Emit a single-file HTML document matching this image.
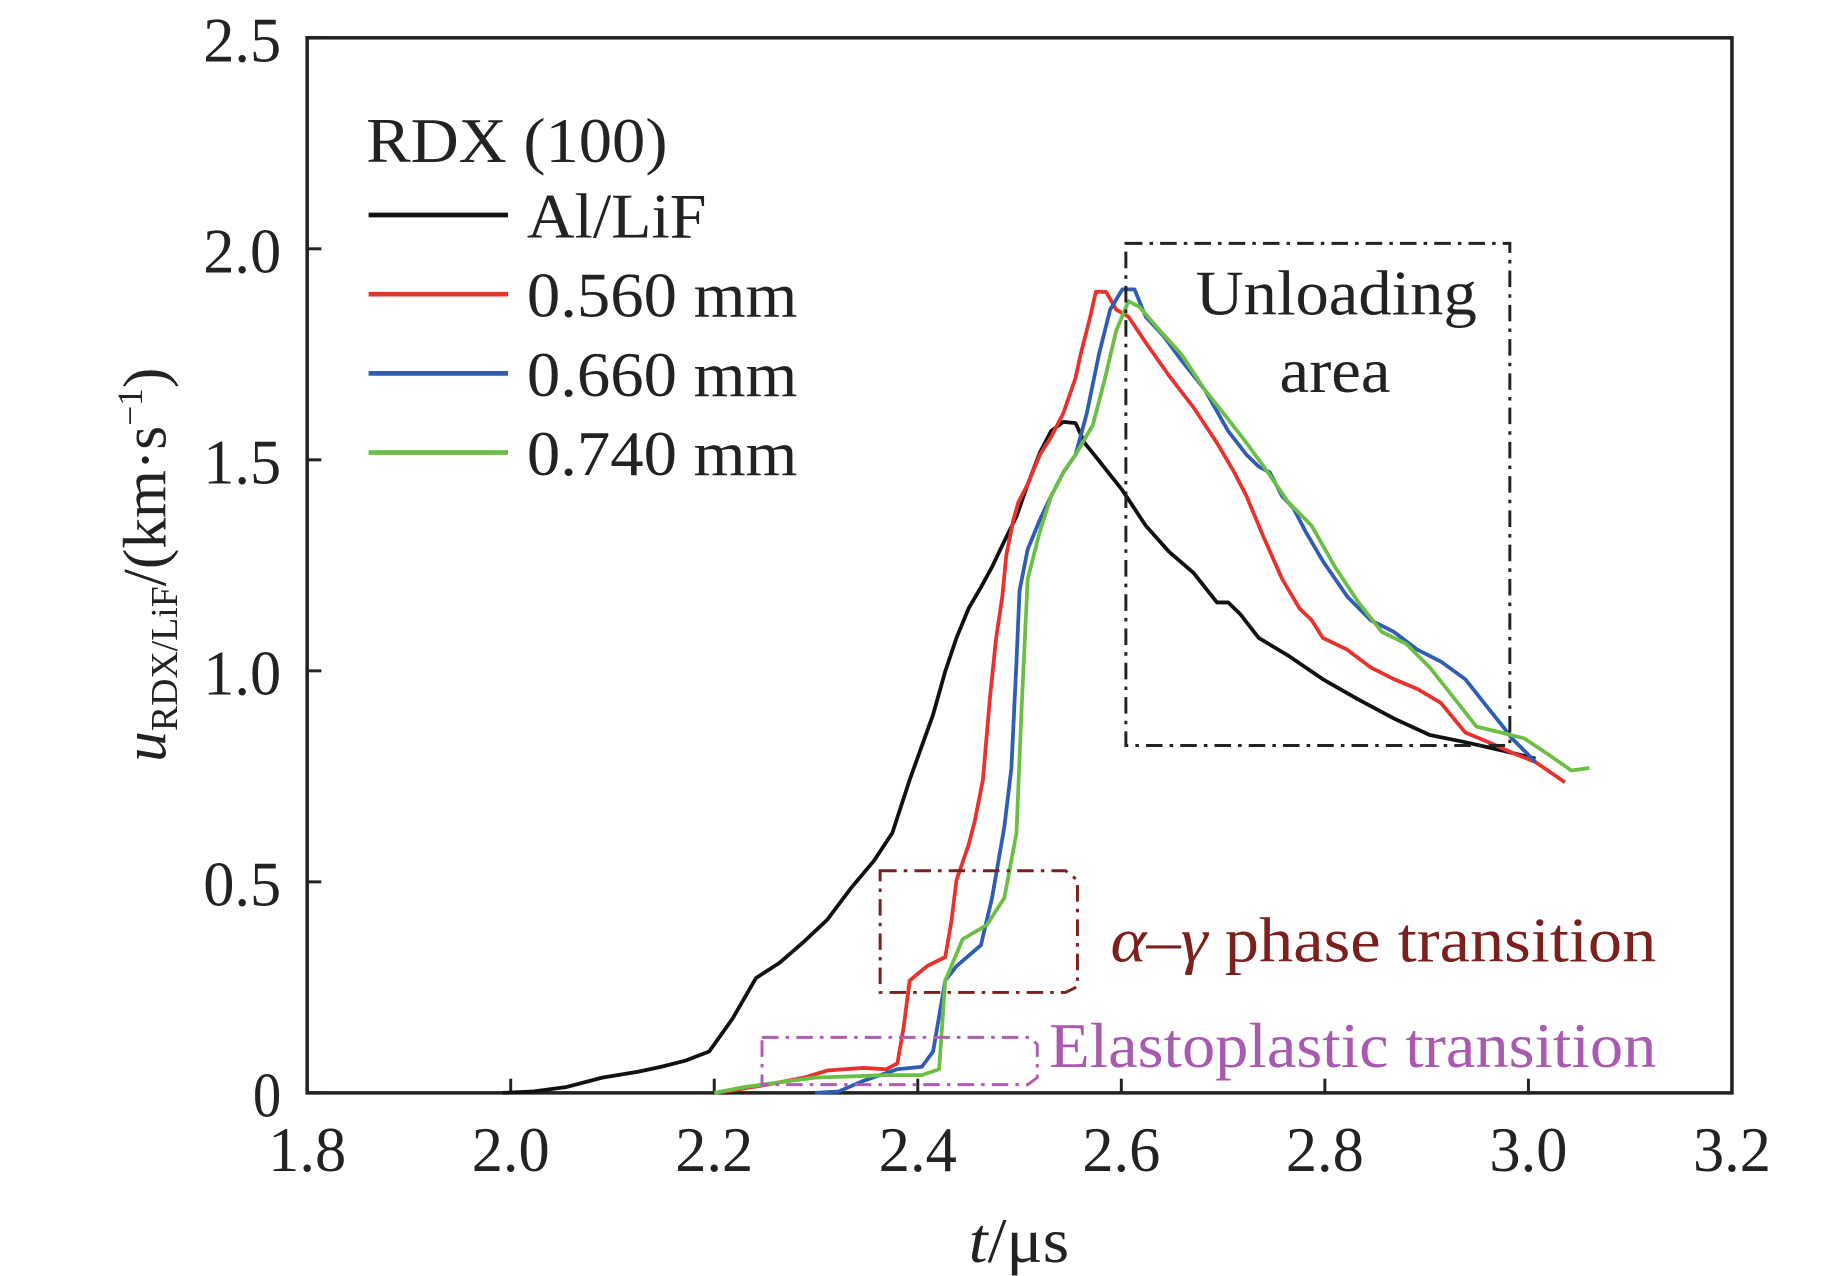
<!DOCTYPE html>
<html><head><meta charset="utf-8"><style>html,body{margin:0;padding:0;background:#fff}svg{display:block}</style></head>
<body>
<svg width="1843" height="1276" viewBox="0 0 1560 1080" preserveAspectRatio="none" xmlns="http://www.w3.org/2000/svg" font-family="'Liberation Serif', serif">
<g id="plot"></g>
</svg>
<script>
const xTicks=[1.8,2.0,2.2,2.4,2.6,2.8,3.0,3.2];
const yTicks=[0,0.5,1.0,1.5,2.0,2.5];
const yTickLabels=["0","0.5","1.0","1.5","2.0","2.5"];
const seriesNames=["Al/LiF","0.560 mm","0.660 mm","0.740 mm"];
const seriesColors=["#111","#e8322d","#2f5db3","#6cbf45"];
const tBlack=[1.992,2.021,2.055,2.090,2.125,2.148,2.171,2.195,2.218,2.241,2.264,2.288,2.311,2.334,2.357,2.375,2.392,2.415,2.427,2.438,2.450,2.462,2.473,2.485,2.497,2.508,2.520,2.531,2.543,2.555,2.564,2.578,2.601,2.624,2.647,2.671,2.694,2.705,2.717,2.735,2.764,2.798,2.833,2.868,2.903,2.938,2.973,3.007];
const uBlack=[0,0.003,0.014,0.036,0.05,0.062,0.076,0.098,0.176,0.272,0.308,0.358,0.41,0.484,0.55,0.616,0.742,0.896,0.999,1.078,1.148,1.198,1.246,1.307,1.366,1.442,1.517,1.568,1.59,1.587,1.54,1.498,1.428,1.344,1.282,1.232,1.162,1.162,1.134,1.078,1.036,0.98,0.932,0.887,0.848,0.831,0.812,0.792];
const tRed=[2.200,2.224,2.253,2.288,2.311,2.346,2.369,2.380,2.386,2.392,2.409,2.427,2.433,2.438,2.450,2.456,2.464,2.471,2.477,2.483,2.487,2.494,2.499,2.508,2.520,2.531,2.543,2.555,2.560,2.569,2.575,2.585,2.595,2.607,2.624,2.647,2.671,2.694,2.711,2.723,2.740,2.758,2.775,2.787,2.798,2.822,2.845,2.868,2.891,2.914,2.938,2.961,2.984,3.007,3.036];
const uRed=[0,0.008,0.02,0.036,0.053,0.059,0.056,0.07,0.154,0.266,0.3,0.322,0.406,0.504,0.588,0.644,0.742,0.938,1.078,1.176,1.274,1.358,1.4,1.442,1.512,1.554,1.61,1.694,1.75,1.834,1.898,1.898,1.856,1.839,1.778,1.699,1.624,1.54,1.47,1.414,1.316,1.218,1.148,1.12,1.078,1.05,1.008,0.98,0.957,0.924,0.854,0.831,0.806,0.784,0.736];
const tBlue=[2.299,2.322,2.346,2.380,2.404,2.415,2.427,2.438,2.462,2.473,2.485,2.492,2.497,2.500,2.508,2.520,2.531,2.543,2.555,2.566,2.578,2.589,2.601,2.613,2.624,2.642,2.659,2.682,2.705,2.723,2.735,2.746,2.758,2.769,2.781,2.798,2.822,2.845,2.868,2.891,2.914,2.938,2.961,2.975,2.984,3.007];
const uBlue=[0,0.003,0.028,0.056,0.062,0.098,0.266,0.3,0.35,0.462,0.63,0.77,1.022,1.19,1.288,1.358,1.414,1.47,1.512,1.61,1.75,1.856,1.904,1.904,1.839,1.792,1.736,1.666,1.568,1.512,1.484,1.47,1.414,1.386,1.33,1.26,1.176,1.12,1.092,1.05,1.022,0.98,0.91,0.868,0.84,0.784];
const tGreen=[2.200,2.230,2.264,2.299,2.334,2.369,2.404,2.421,2.427,2.444,2.468,2.485,2.497,2.502,2.508,2.520,2.531,2.543,2.555,2.572,2.584,2.595,2.607,2.618,2.636,2.659,2.682,2.705,2.723,2.740,2.764,2.787,2.810,2.833,2.856,2.880,2.903,2.926,2.949,2.973,2.996,3.019,3.042,3.060];
const uGreen=[0,0.014,0.025,0.036,0.039,0.042,0.042,0.056,0.266,0.364,0.398,0.462,0.616,0.91,1.218,1.33,1.414,1.47,1.512,1.582,1.694,1.806,1.876,1.862,1.811,1.75,1.666,1.596,1.54,1.484,1.4,1.344,1.246,1.162,1.092,1.064,1.008,0.938,0.868,0.854,0.84,0.803,0.764,0.77];

const L=260,R=1466,T=32,B=925;
const xs=t=>L+(t-1.8)/1.4*(R-L);
const ys=u=>B-u/2.5*(B-T);
const NS="http://www.w3.org/2000/svg";
const g=document.getElementById('plot');
function mk(tag,attrs,txt){const e=document.createElementNS(NS,tag);for(const k in attrs)e.setAttribute(k,attrs[k]);if(txt!==undefined)e.textContent=txt;g.appendChild(e);return e;}
const FIT={lengthAdjust:'spacingAndGlyphs'};

let e=mk('rect',{x:L,y:T,width:R-L,height:B-T,fill:'none',stroke:'#222','stroke-width':3});


xTicks.forEach(v=>{
  let tk=mk('line',{x1:xs(v),x2:xs(v),y1:B,y2:B-12,stroke:'#222','stroke-width':2.5});
  
  
  let lb=mk('text',{x:xs(v),y:B+66,'text-anchor':'middle','font-size':54,fill:'#222',textLength:66,lengthAdjust:'spacingAndGlyphs'},v.toFixed(1));
  
  
});
yTicks.forEach((v,i)=>{
  let tk=mk('line',{x1:L,x2:L+12,y1:ys(v),y2:ys(v),stroke:'#222','stroke-width':2.5});
  
  
  let lb=mk('text',{x:L-22,y:ys(v)+20,'text-anchor':'end','font-size':54,fill:'#222',textLength:yTickLabels[i].length>1?66:24,lengthAdjust:'spacingAndGlyphs'},yTickLabels[i]);
  
  
});
const allT=[tBlack,tRed,tBlue,tGreen],allU=[uBlack,uRed,uBlue,uGreen];
const names=['series-al-lif','series-0560mm','series-0660mm','series-0740mm'];
allT.forEach((ts,i)=>{
  const d=ts.map((t,j)=>(j?'L':'M')+xs(t).toFixed(1)+','+ys(allU[i][j]).toFixed(1)).join(' ');
  let p=mk('path',{d:d,fill:'none',stroke:seriesColors[i],'stroke-width':3.2,'stroke-linejoin':'round'});
  
  
});
const legW=[152,229,229,229];
let lt=mk('text',{x:310,y:137,'font-size':54,fill:'#222',textLength:255,lengthAdjust:'spacingAndGlyphs'},'RDX (100)');


seriesNames.forEach((n,i)=>{
  const y=182+i*67;
  let ln=mk('line',{x1:312,x2:430,y1:y,y2:y,stroke:seriesColors[i],'stroke-width':4});
  
  
  let tx=mk('text',{x:446,y:y+19,'font-size':54,fill:'#222',textLength:legW[i],lengthAdjust:'spacingAndGlyphs'},n);
  
  
});
let b1=mk('rect',{x:953,y:206,width:325,height:425,fill:'none',stroke:'#222','stroke-width':2.5,'stroke-dasharray':'14 6 3 6'});


let t1=mk('text',{x:1012,y:266,'font-size':54,fill:'#222',textLength:238,lengthAdjust:'spacingAndGlyphs'},'Unloading');


let t2=mk('text',{x:1083,y:332,'font-size':54,fill:'#222',textLength:94,lengthAdjust:'spacingAndGlyphs'},'area');


let b2=mk('path',{d:'M745,737 L902,737 L912,745 L912,835 L902,840 L745,840 Z',fill:'none',stroke:'#7b1f1f','stroke-width':2.5,'stroke-dasharray':'14 6 3 6'});


let t3=mk('text',{x:940,y:814,'font-size':54,fill:'#7b1f1f',textLength:462,lengthAdjust:'spacingAndGlyphs'});


t3.innerHTML='<tspan font-style="italic">α</tspan>–<tspan font-style="italic">γ</tspan> phase transition';
let b3=mk('path',{d:'M645,878 L872,878 L878,884 L878,912 L870,918 L645,918 Z',fill:'none',stroke:'#b05cb5','stroke-width':2.5,'stroke-dasharray':'14 6 3 6'});


let t4=mk('text',{x:888,y:903,'font-size':54,fill:'#a95ab0',textLength:514,lengthAdjust:'spacingAndGlyphs'},'Elastoplastic transition');


let xt=mk('text',{x:820,y:1068,'font-size':54,fill:'#222',textLength:85,lengthAdjust:'spacingAndGlyphs'});


xt.innerHTML='<tspan font-style="italic">t</tspan>/μs';
let yt=mk('text',{transform:'translate(140,478) rotate(-90)','text-anchor':'middle','font-size':52,fill:'#222'});


yt.innerHTML='<tspan font-style="italic">u</tspan><tspan font-size="32" dy="10">RDX/LiF</tspan><tspan dy="-10">/(km·s</tspan><tspan font-size="30" dy="-20">−1</tspan><tspan dy="20">)</tspan>';
</script>
</body></html>
